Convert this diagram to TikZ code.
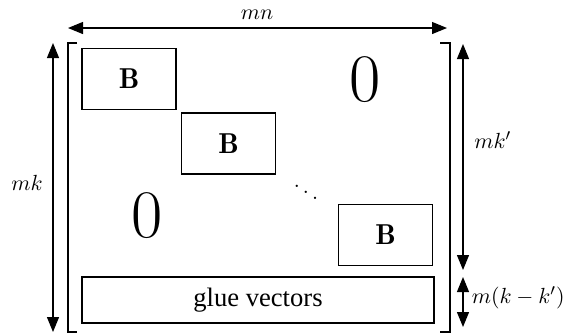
\documentclass[tikz,border=0pt]{standalone}
\usepackage{fontspec}
\usepackage{amsmath}
\newfontfamily\gluefont{Liberation Serif}
\usetikzlibrary{arrows.meta}
\begin{document}
\begin{tikzpicture}[x=0.5pt,y=-0.5pt,
  blockbox/.style={draw,line width=0.7pt,minimum width=47pt,minimum height=30.5pt,inner sep=0pt,font=\Large},
  gluebox/.style={draw,line width=0.7pt,minimum width=176pt,minimum height=23pt,inner sep=0pt,font=\gluefont\fontsize{13.3}{15}\selectfont},
  bigzero/.style={inner sep=0pt,font=\fontsize{34}{40}\selectfont},
  dimarrow/.style={line width=0.6pt,{Triangle[length=7.5pt,width=6pt]}-{Triangle[length=7.5pt,width=6pt]}},
  bracketline/.style={line width=0.6pt},
  dimlabel/.style={inner sep=0pt,font=\fontsize{11}{13}\selectfont}]
\useasboundingbox (0,0) rectangle (569,333);

% matrix blocks
\node[blockbox] (b1) at (129,79) {$\mathbf{B}$};
\node[blockbox] (b2) at (228.5,143.5) {$\mathbf{B}$};
\node[blockbox] (b3) at (385.5,235) {$\mathbf{B}$};
\node[gluebox] (glue) at (258,300) {glue vectors};
\node[bigzero] (z1) at (365,80) {0};
\node[bigzero] (z2) at (147,216) {0};
\node[inner sep=0pt,font=\large] (dd) at (306,186) {$\ddots$};

% brackets
\draw[bracketline] (77,43) -- (68,43) -- (68,332) -- (77,332);
\draw[bracketline] (440,43) -- (450,43) -- (450,332) -- (440,332);

% dimension arrows
\coordinate (mnL) at (68,28);
\coordinate (mnR) at (447,28);
\coordinate (mkT) at (53,43);
\coordinate (mkB) at (53,332);
\coordinate (kpT) at (463,44);
\coordinate (kpB) at (463,270);
\coordinate (kdT) at (463,277);
\coordinate (kdB) at (463,327);
\draw[dimarrow] (mnL) -- (mnR);
\draw[dimarrow] (mkT) -- (mkB);
\draw[dimarrow] (kpT) -- (kpB);
\draw[dimarrow] (kdT) -- (kdB);

\node[dimlabel] (lmn) at (257,15) {$mn$};
\node[dimlabel] (lmk) at (27,183) {$mk$};
\node[dimlabel,anchor=west] (lkp) at (474,140) {$mk'$};
\node[dimlabel,anchor=east] (lkd) at (565,298) {$m(k-k')$};
\end{tikzpicture}
\end{document}
